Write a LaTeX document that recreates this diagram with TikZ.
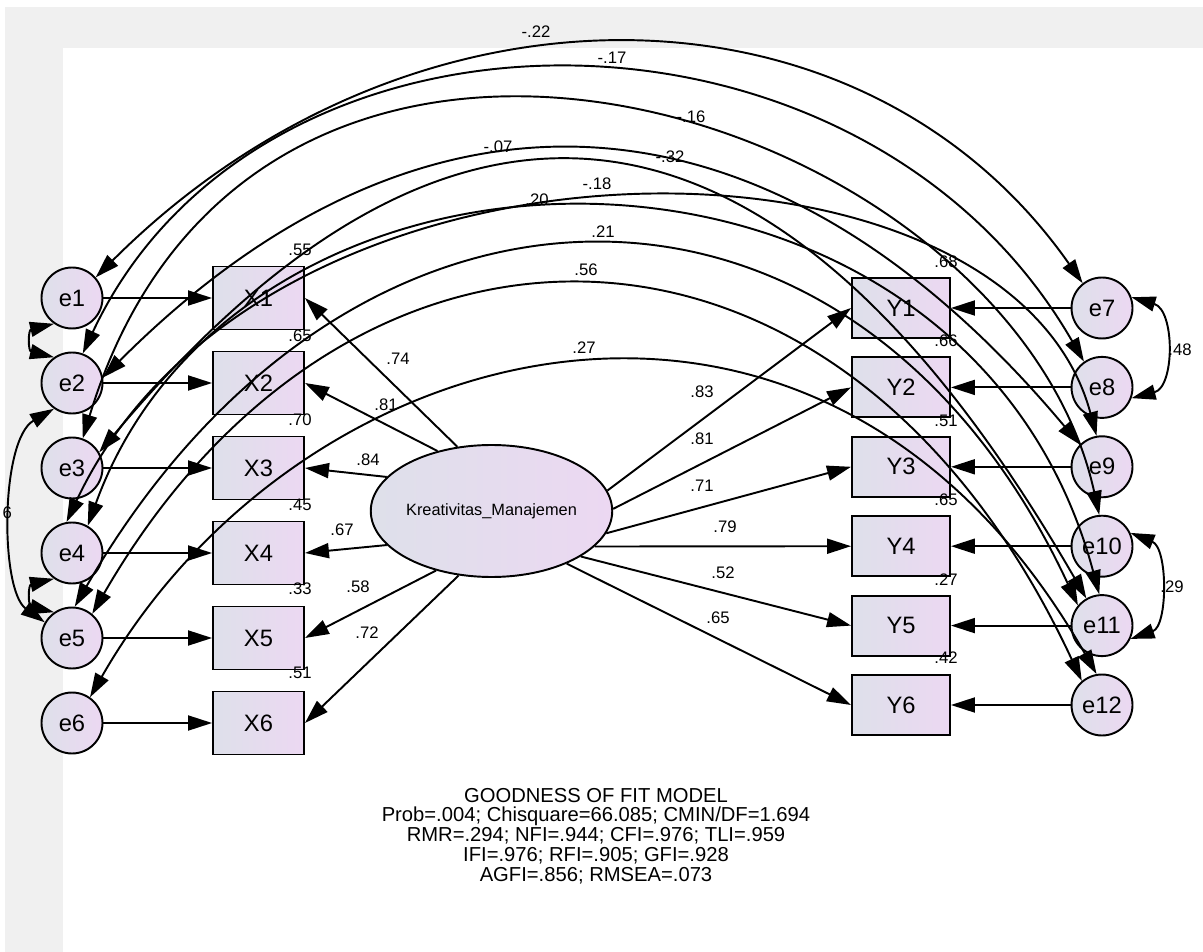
\documentclass[tikz,border=0pt]{standalone}
\usepackage{fontspec}
\setmainfont{Liberation Sans}
\usetikzlibrary{arrows.meta,shapes.geometric}
\definecolor{framegray}{RGB}{240,240,240}
\definecolor{shadeleft}{RGB}{222,224,234}
\definecolor{shaderight}{RGB}{236,216,242}

\begin{document}
\begin{tikzpicture}[x=0.02cm, y=-0.02cm, line width=1.1pt,
  >={Triangle[length=4.8mm,width=3mm]},
  errc/.style={circle, draw, left color=shadeleft, right color=shaderight, minimum size=1.22cm, inner sep=0pt, font=\fontsize{13.5}{15}\selectfont},
  xbox/.style={rectangle, draw, left color=shadeleft, right color=shaderight, minimum width=1.82cm, minimum height=1.26cm, inner sep=0pt, font=\fontsize{13.5}{15}\selectfont},
  ybox/.style={xbox, minimum width=1.96cm, minimum height=1.2cm},
  coef/.style={font=\fontsize{9.5}{11}\selectfont, inner sep=1pt},
  cov/.style={<->}]
  % Rahmen
  \useasboundingbox (0,0) rectangle (1203,952);
  \fill[white] (0,0) rectangle (1203,952);
  \fill[framegray] (5,7) rectangle (1203,952);
  \fill[white] (63,48) rectangle (1203,952);
  % Fehler links
  \node[errc] (e1) at (72,298) {e1};
  \node[errc] (e2) at (72,383) {e2};
  \node[errc] (e3) at (72,468) {e3};
  \node[errc] (e4) at (72,553) {e4};
  \node[errc] (e5) at (72,638) {e5};
  \node[errc] (e6) at (72,723) {e6};
  % Indikatoren X
  \node[xbox] (X1) at (258.5,298) {X1};
  \node[xbox] (X2) at (258.5,383) {X2};
  \node[xbox] (X3) at (258.5,468) {X3};
  \node[xbox] (X4) at (258.5,553) {X4};
  \node[xbox] (X5) at (258.5,638) {X5};
  \node[xbox] (X6) at (258.5,723) {X6};
  % Indikatoren Y
  \node[ybox] (Y1) at (901,308) {Y1};
  \node[ybox] (Y2) at (901,387.4) {Y2};
  \node[ybox] (Y3) at (901,466.8) {Y3};
  \node[ybox] (Y4) at (901,546.2) {Y4};
  \node[ybox] (Y5) at (901,625.6) {Y5};
  \node[ybox] (Y6) at (901,705) {Y6};
  % Fehler rechts
  \node[errc] (e7) at (1102,308) {e7};
  \node[errc] (e8) at (1102,387.4) {e8};
  \node[errc] (e9) at (1102,466.8) {e9};
  \node[errc] (e10) at (1102,546.2) {e10};
  \node[errc] (e11) at (1102,625.6) {e11};
  \node[errc] (e12) at (1102,705) {e12};
  % Faktor
  \node[ellipse, draw, left color=shadeleft, right color=shaderight, minimum width=3.66cm, minimum height=2.64cm, inner sep=0pt, font=\fontsize{9.3}{11}\selectfont] (km) at (491.5,511) {Kreativitas\_Manajemen};
  % Fehlerpfeile
  \draw[->] (e1) -- (X1);
  \draw[->] (e2) -- (X2);
  \draw[->] (e3) -- (X3);
  \draw[->] (e4) -- (X4);
  \draw[->] (e5) -- (X5);
  \draw[->] (e6) -- (X6);
  \draw[->] (e7) -- (Y1);
  \draw[->] (e8) -- (Y2);
  \draw[->] (e9) -- (Y3);
  \draw[->] (e10) -- (Y4);
  \draw[->] (e11) -- (Y5);
  \draw[->] (e12) -- (Y6);
  % Ladungen
  \draw[->] (km.118) -- (X1.east);
  \draw[->] (km.132) -- (X2.east);
  \draw[->] (km.162) -- (X3.east);
  \draw[->] (km.198) -- (X4.east);
  \draw[->] (km.227) -- (X5.east);
  \draw[->] (km.243) -- (X6.east);
  \draw[->] (km.10) -- (Y1.west);
  \draw[->] (km.1) -- (Y2.west);
  \draw[->] (km.-11) -- (Y3.west);
  \draw[->] (km.-19) -- (Y4.west);
  \draw[->] (km.-27) -- (Y5.west);
  \draw[->] (km.-35) -- (Y6.west);
  \node[coef] (lx1) at (398,359) {.74};
  \node[coef] (lx2) at (386,405) {.81};
  \node[coef] (lx3) at (368,460) {.84};
  \node[coef] (lx4) at (342,530) {.67};
  \node[coef] (lx5) at (358,587) {.58};
  \node[coef] (lx6) at (367,633) {.72};
  \node[coef] (ly1) at (702,392) {.83};
  \node[coef] (ly2) at (702,439) {.81};
  \node[coef] (ly3) at (702,486) {.71};
  \node[coef] (ly4) at (725,527) {.79};
  \node[coef] (ly5) at (723,573) {.52};
  \node[coef] (ly6) at (718,618) {.65};
  % quadrierte Korrelationen
  \node[coef] (rx1) at (300,250) {.55};
  \node[coef] (rx2) at (300,336) {.65};
  \node[coef] (rx3) at (300,420) {.70};
  \node[coef] (rx4) at (300,505) {.45};
  \node[coef] (rx5) at (300,589) {.33};
  \node[coef] (rx6) at (300,673) {.51};
  \node[coef] (ry1) at (946,262) {.68};
  \node[coef] (ry2) at (946,341) {.66};
  \node[coef] (ry3) at (946,421) {.51};
  \node[coef] (ry4) at (946,500) {.65};
  \node[coef] (ry5) at (946,580) {.27};
  \node[coef] (ry6) at (946,658) {.42};
  % Kovarianzboegen
  \draw[cov] (e1.41) .. controls (407,-34) and (860,-34) .. (e7.128);
  \draw[cov] (e2.70) .. controls (260,-25) and (861,-25) .. (e8.125);
  \draw[cov] (e3.70) .. controls (255,-130) and (1010,110) .. (e10.95);
  \draw[cov] (e2.10) .. controls (415,65) and (762,65) .. (e9.135);
  \draw[cov] (e3.30) .. controls (441,45) and (767,45) .. (e11.120);
  \draw[cov] (e4.100) .. controls (261,107) and (1008,107) .. (e9.100);
  \draw[cov] (e4.60) .. controls (245,93) and (965,93) .. (e11.95);
  \draw[cov] (e5.85) .. controls (352,127) and (855,127) .. (e11.140);
  \draw[cov] (e5.50) .. controls (350,167) and (842,167) .. (e12.130);
  \draw[cov] (e6.55) .. controls (300,330) and (820,190) .. (e12.100);
  \node[coef] (c1) at (536,32) {-.22};
  \node[coef] (c2) at (612,58) {-.17};
  \node[coef] (c3) at (691,117) {-.16};
  \node[coef] (c4) at (498,147) {-.07};
  \node[coef] (c5) at (670,157) {-.32};
  \node[coef] (c6) at (597,184) {-.18};
  \node[coef] (c7) at (537,200) {.20};
  \node[coef] (c8) at (603,232) {.21};
  \node[coef] (c9) at (586,270) {.56};
  \node[coef] (c10) at (584,348) {.27};
  % kurze Boegen
  \draw[cov] (e1.235) .. controls (28,330) and (28,351) .. (e2.125);
  \draw[cov] (e4.235) .. controls (28,585) and (28,606) .. (e5.125);
  \draw[cov] (e2.235) .. controls (0,440) and (0,590) .. (e5.150);
  \node[coef, anchor=west] (c11) at (0,513) {6};
  \draw[cov] (e7.20) .. controls (1175,310) and (1175,387) .. (e8.-20);
  \draw[cov] (e10.25) .. controls (1168,548) and (1168,626) .. (e11.-25);
  \node[coef] (c12) at (1180,350) {.48};
  \node[coef] (c13) at (1172,587) {.29};
  % Modellguete
  \node[align=center, font=\fontsize{11.5}{11.3}\selectfont] (gof) at (596,836) {GOODNESS OF FIT MODEL\\Prob=.004; Chisquare=66.085; CMIN/DF=1.694\\RMR=.294; NFI=.944; CFI=.976; TLI=.959\\IFI=.976; RFI=.905; GFI=.928\\AGFI=.856; RMSEA=.073};
\end{tikzpicture}
\end{document}
